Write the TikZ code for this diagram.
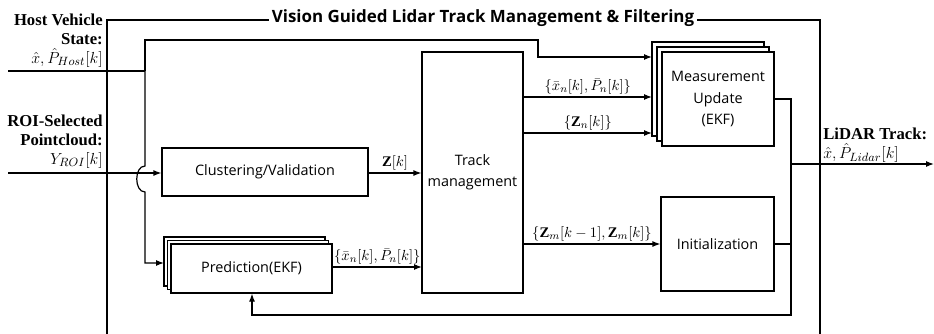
\documentclass[tikz,border=0pt]{standalone}
\usepackage{amsmath}
\usepackage{amssymb}
\usepackage{fontspec}
\setmainfont{Liberation Serif}
\setsansfont{Open Sans}
\usetikzlibrary{arrows.meta,shadows}

\begin{document}
\begin{tikzpicture}[x=0.75pt,y=-0.75pt,
  blk/.style={draw,fill=white,line width=0.9pt,inner sep=0pt,align=center,
    font=\sffamily\fontsize{10.8}{16}\selectfont},
  stk/.style={blk,double copy shadow={shadow xshift=-#1,shadow yshift=#1}},
  ln/.style={line width=0.9pt},
  ar/.style={ln,-{Latex[length=6pt,width=4.5pt]}},
  lbl/.style={inner sep=1.5pt,font=\fontsize{11}{12}\selectfont},
  side/.style={align=right,inner sep=0pt,font=\fontsize{12.5}{14}\selectfont}]
  \useasboundingbox (0,0) rectangle (934,333);
  \draw[line width=2.2pt] (107,345) -- (107,20) -- (820,20) -- (820,345);
  \node[fill=white,inner xsep=2pt,font=\sffamily\bfseries\fontsize{12.7}{14}\selectfont] (ttl) at (483,18)
    {Vision Guided Lidar Track Management \& Filtering};
  \node[side,anchor=north east] (host) at (103,14)
    {\textbf{Host Vehicle}\\\textbf{State:}\\$\hat{x},\hat{P}_{Host}[k]$};
  \node[side,anchor=north east] (roi) at (103,115)
    {\textbf{ROI-Selected}\\\textbf{Pointcloud:}\\$Y_{ROI}[k]$};
  \node[side,align=left,anchor=north west] (lid) at (823,128)
    {\textbf{LiDAR Track:}\\$\hat{x},\hat{P}_{Lidar}[k]$};
  \node[blk,minimum width=154.5pt,minimum height=36pt] (clu) at (265,172) {Clustering/Validation};
  \node[blk,minimum width=75.75pt,minimum height=180.75pt] (trk) at (472.5,172.5) {Track\\management};
  \node[stk=3.75pt,minimum width=84pt,minimum height=70.5pt] (mu) at (718,99) {Measurement\\Update\\(EKF)};
  \node[stk=2.6pt,minimum width=120.75pt,minimum height=36.75pt] (pre) at (251.5,268.5) {Prediction(EKF)};
  \node[blk,minimum width=84.75pt,minimum height=70.5pt] (ini) at (717.5,244) {Initialization};
  \coordinate (hin) at (8,71);
  \coordinate (j1) at (145,71);
  \coordinate (rin) at (8,173);
  \coordinate (pin) at (164,263);
  \coordinate (mu1) at (652,57);
  \coordinate (mu2) at (652,97);
  \coordinate (mu3) at (652,133);
  \coordinate (t4) at (422,267);
  \coordinate (r1) at (791,99);
  \coordinate (r2) at (252,315);
  \coordinate (out) at (934,164);
  \draw[ln] (hin) -- (j1);
  \draw[ar] (j1) |- (538,40) |- (mu1);
  \draw[ar] (j1) -- (145,166) .. controls (134,166) and (134,192) .. (145,192) |- (pin);
  \draw[ar] (rin) -- (rin -| clu.west);
  \draw[ar] (rin -| clu.east) -- node[lbl,above] {$\mathbf{Z}[k]$} (rin -| trk.west);
  \draw[ar] (mu2 -| trk.east) -- node[lbl,above] {$\{\bar{x}_n[k],\bar{P}_n[k]\}$} (mu2);
  \draw[ar] (mu3 -| trk.east) -- node[lbl,above] {$\{\mathbf{Z}_n[k]\}$} (mu3);
  \draw[ar] (ini.west -| trk.east) -- node[lbl,above] {$\{\mathbf{Z}_m[k-1],\mathbf{Z}_m[k]\}$} (ini.west);
  \draw[ar] (t4 -| pre.east) -- node[lbl,above] {$\{\bar{x}_n[k],\bar{P}_n[k]\}$} (t4);
  \draw[ar] (mu.east) -- (r1) |- (r2) -- (r2 |- pre.south);
  \draw[ln] (ini) -- (ini -| r1);
  \draw[ar] (out -| r1) -- (out);
\end{tikzpicture}
\end{document}
